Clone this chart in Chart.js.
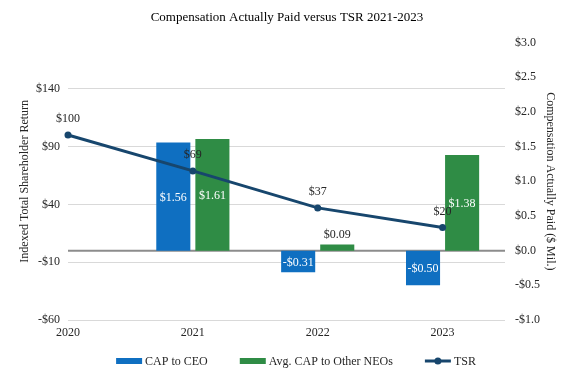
<!DOCTYPE html>
<html><head><meta charset="utf-8">
<script src="https://cdn.jsdelivr.net/npm/chart.js@4.4.0/dist/chart.umd.min.js"></script>
<style>html,body{margin:0;padding:0;background:#fff}#wrap{width:574px;height:379px}</style>
</head><body><div id="wrap"><canvas id="c" width="574" height="379"></canvas></div>
<script>
const years = [2020, 2021, 2022, 2023];
const barYears = [2021, 2022, 2023];
const capCEO = [1.56, -0.31, -0.50];
const capNEO = [1.61, 0.09, 1.38];
const tsr = [100, 69, 37, 20];
const leftTicks = [-60, -10, 40, 90, 140];
const rightTicks = [-1.0, -0.5, 0.0, 0.5, 1.0, 1.5, 2.0, 2.5, 3.0];
const legendNames = ['CAP to CEO', 'Avg. CAP to Other NEOs', 'TSR'];

const BLUE = '#0f6fc1', GREEN = '#2f8c45', NAVY = '#17466d';
const FONT = "'Liberation Serif', 'Times New Roman', serif";
Chart.defaults.font.family = FONT;
Chart.defaults.font.size = 12;
Chart.defaults.color = '#262626';

function money(v, d) {
  const s = Math.abs(v).toFixed(d);
  return (v < 0 ? '-$' : '$') + s;
}

const labelPlugin = {
  id: 'labels',
  beforeDatasetsDraw(chart) {
    const {ctx, chartArea} = chart;
    const y0 = chart.scales.y1.getPixelForValue(0);
    ctx.save();
    ctx.strokeStyle = '#8c8c8c';
    ctx.lineWidth = 2;
    ctx.beginPath();
    ctx.moveTo(chartArea.left, y0);
    ctx.lineTo(chartArea.right, y0);
    ctx.stroke();
    ctx.restore();
  },
  afterDatasetsDraw(chart) {
    const {ctx} = chart;
    ctx.save();
    ctx.font = '12px ' + FONT;
    ctx.textAlign = 'center';
    ctx.textBaseline = 'middle';
    chart.data.datasets.forEach((ds, di) => {
      const meta = chart.getDatasetMeta(di);
      meta.data.forEach((el, i) => {
        const v = ds.data[i].y;
        if (ds.type === 'line') {
          ctx.fillStyle = '#262626';
          ctx.fillText(money(v, 0), el.x, el.y - 16);
        } else {
          const h = Math.abs(el.base - el.y);
          if (h < 16) {
            ctx.fillStyle = '#262626';
            ctx.fillText(money(v, 2), el.x, Math.min(el.y, el.base) - 10);
          } else {
            ctx.fillStyle = '#ffffff';
            ctx.fillText(money(v, 2), el.x, (el.y + el.base) / 2 + 1);
          }
        }
      });
    });
    ctx.restore();
  },
  afterDraw(chart) {
    const {ctx} = chart;
    ctx.save();
    ctx.font = '12px ' + FONT;
    ctx.textBaseline = 'middle';
    ctx.textAlign = 'left';
    const boxW = 26, gapT = 3, gapI = 32;
    const widths = legendNames.map(t => boxW + gapT + ctx.measureText(t).width);
    const total = widths.reduce((a, b) => a + b, 0) + gapI * (legendNames.length - 1);
    let x = 296 - total / 2;
    const y = 361;
    const cols = [BLUE, GREEN, NAVY];
    legendNames.forEach((t, i) => {
      if (i < 2) {
        ctx.fillStyle = cols[i];
        ctx.fillRect(x, y - 3, boxW, 6);
      } else {
        ctx.strokeStyle = NAVY;
        ctx.lineWidth = 3;
        ctx.beginPath();
        ctx.moveTo(x, y);
        ctx.lineTo(x + boxW, y);
        ctx.stroke();
        ctx.fillStyle = NAVY;
        ctx.beginPath();
        ctx.arc(x + boxW / 2, y, 3.5, 0, Math.PI * 2);
        ctx.fill();
      }
      ctx.fillStyle = '#262626';
      ctx.fillText(t, x + boxW + gapT, y + 1);
      x += widths[i] + gapI;
    });
    ctx.restore();
  }
};

new Chart(document.getElementById('c'), {
  type: 'bar',
  data: {
    datasets: [
      {
        type: 'line', label: 'TSR', yAxisID: 'y', order: 0, clip: false,
        data: years.map((x, i) => ({x, y: tsr[i]})),
        borderColor: NAVY, backgroundColor: NAVY, borderWidth: 3,
        pointRadius: 3.5, pointBackgroundColor: NAVY, pointBorderWidth: 0, tension: 0
      },
      {
        type: 'bar', label: 'CAP to CEO', yAxisID: 'y1', order: 1,
        data: barYears.map((x, i) => ({x, y: capCEO[i]})),
        backgroundColor: BLUE, categoryPercentage: 0.626, barPercentage: 0.872
      },
      {
        type: 'bar', label: 'Avg. CAP to Other NEOs', yAxisID: 'y1', order: 2,
        data: barYears.map((x, i) => ({x, y: capNEO[i]})),
        backgroundColor: GREEN, categoryPercentage: 0.626, barPercentage: 0.872
      }
    ]
  },
  options: {
    responsive: false,
    animation: false,
    layout: {padding: {left: 0, right: 0, top: 0, bottom: 39}},
    plugins: {
      legend: {display: false},
      tooltip: {enabled: false},
      title: {
        display: true, text: 'Compensation Actually Paid versus TSR 2021-2023',
        color: '#000', font: {size: 13, weight: 'normal', family: FONT},
        padding: {top: 10, bottom: 17}
      }
    },
    scales: {
      x: {
        type: 'linear', min: 2020, max: 2023.5, offset: false,
        grid: {display: false, offset: false, drawTicks: false},
        border: {display: false},
        afterBuildTicks: s => { s.ticks = years.map(v => ({value: v})); },
        afterFit: s => { s.height = 20; },
        ticks: {padding: 6, callback: v => String(v), maxRotation: 0, autoSkip: false}
      },
      y: {
        position: 'left', min: -60, max: 180,
        afterBuildTicks: s => { s.ticks = leftTicks.map(v => ({value: v})); },
        afterFit: s => { s.width = 68; },
        grid: {color: '#d9d9d9', drawTicks: false},
        border: {display: false},
        ticks: {padding: 8, callback: v => money(v, 0)},
        title: {display: true, text: 'Indexed Total Shareholder Return', padding: {top: 18, bottom: 0}, font: {size: 12}}
      },
      y1: {
        position: 'right', min: -1, max: 3,
        afterBuildTicks: s => { s.ticks = rightTicks.map(v => ({value: v})); },
        afterFit: s => { s.width = 69; },
        grid: {display: false, drawTicks: false},
        border: {display: false},
        ticks: {padding: 10, callback: v => money(v, 1)},
        title: {display: true, text: 'Compensation Actually Paid ($ Mil.)', padding: {top: 17, bottom: 0}, font: {size: 12}}
      }
    }
  },
  plugins: [labelPlugin]
});
</script></body></html>
